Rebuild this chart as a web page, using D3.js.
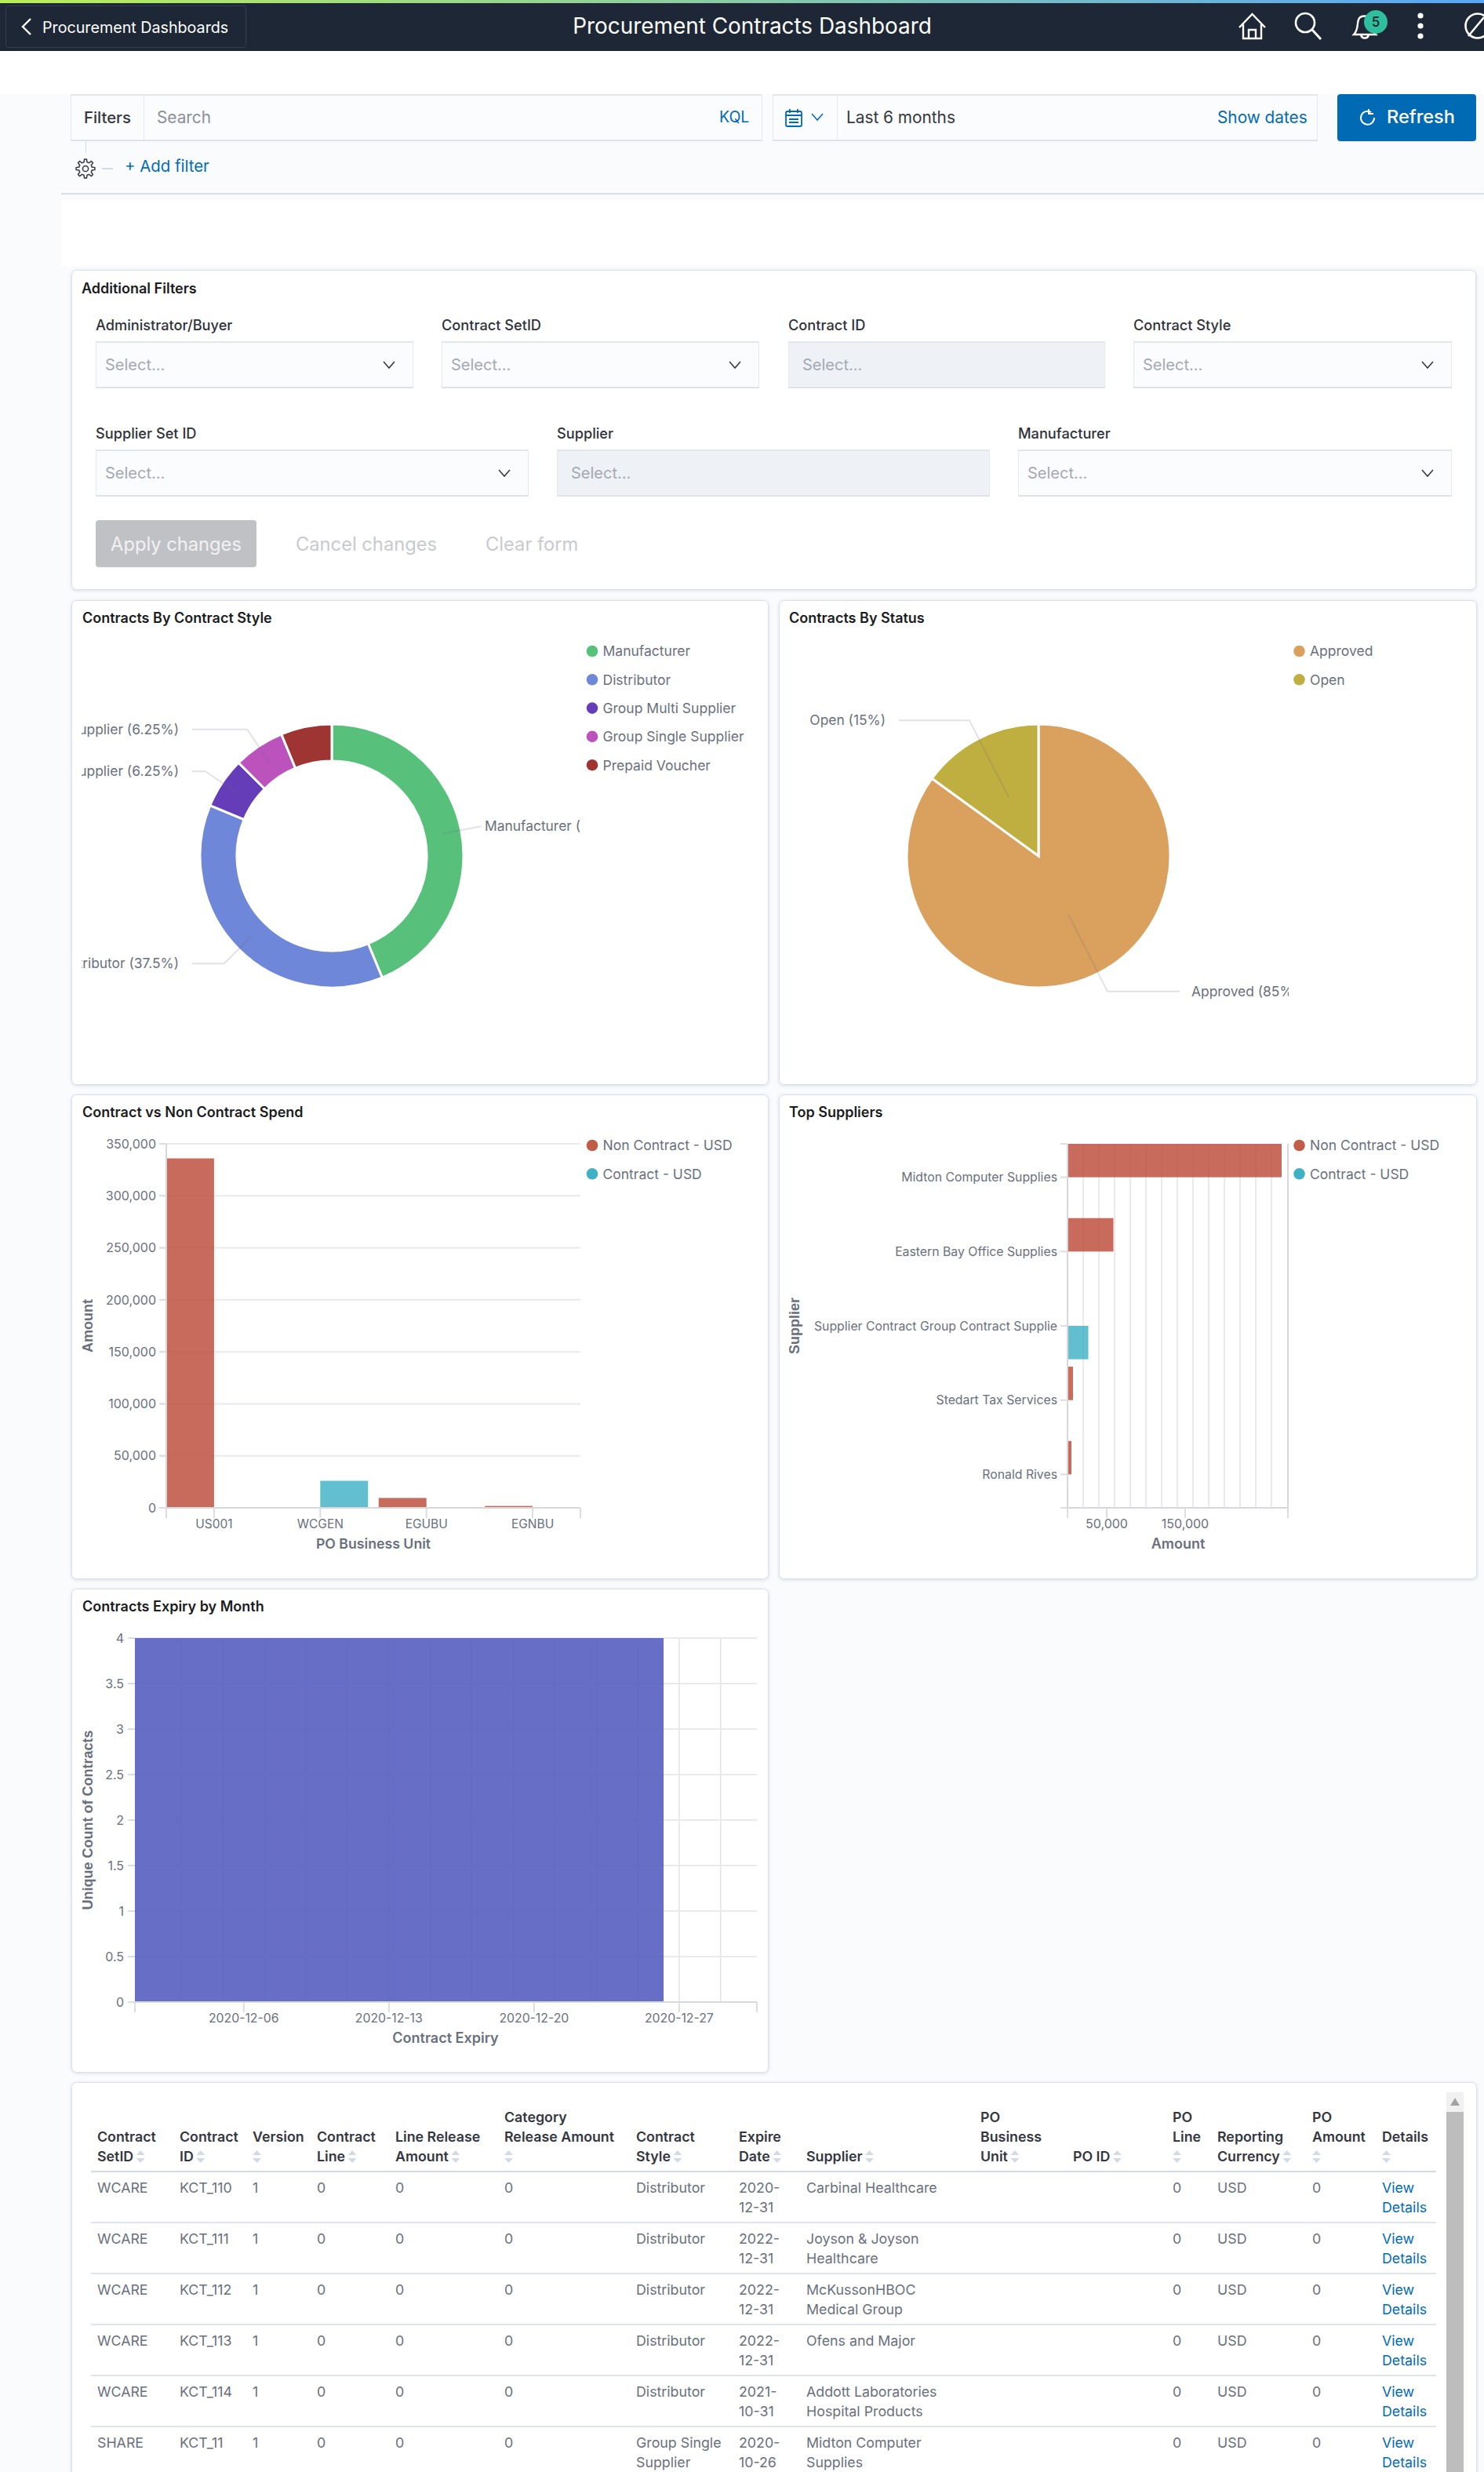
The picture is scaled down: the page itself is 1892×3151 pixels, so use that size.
<!DOCTYPE html>
<html>
<head>
<meta charset="utf-8">
<title>Procurement Contracts Dashboard</title>
<script src="https://cdn.jsdelivr.net/npm/d3@7"></script>
<style>
  html, body { margin: 0; padding: 0; background: #fff; overflow: hidden; }
  svg { display: block; font-family: Inter, "Noto Sans", sans-serif; }
  .panel { fill: #fff; stroke: #d8dfec; filter: drop-shadow(0 1px 2px rgba(120,130,150,.25)); }
  .grid { stroke: #e9eaed; stroke-width: 2; }
  .axis { stroke: #d6d8dc; stroke-width: 2; fill: none; }
  .tick { stroke: #dcdde1; stroke-width: 2; }
  .leader { stroke: rgba(105,112,125,.2); stroke-width: 2; fill: none; }
</style>
</head>
<body>
<script>
"use strict";

const WIDTH = 1892, HEIGHT = 3151;
const GREY = "#69707d", DARK = "#343741", BLUE = "#006bb4";

// Contracts By Contract Style
const styleNames = ["Manufacturer", "Distributor", "Group Multi Supplier", "Group Single Supplier", "Prepaid Voucher"];
const styleShares = [43.75, 37.5, 6.25, 6.25, 6.25];
const styleLabelled = ["Manufacturer", "Distributor", "Group Multi Supplier", "Group Single Supplier"];
const styleColours = ["#57c17b", "#6f87d8", "#663db8", "#bc52bc", "#9e3533"];

// Contracts By Status
const statusNames = ["Approved", "Open"];
const statusShares = [85, 15];
const statusColours = ["#daa05d", "#bfaf40"];

// Contract vs Non Contract Spend
const businessUnits = ["US001", "WCGEN", "EGUBU", "EGNBU"];
const unitNonContract = [336000, 0, 9500, 1800];
const unitContract = [0, 26000, 0, 0];
const unitTicks = [0, 50000, 100000, 150000, 200000, 250000, 300000, 350000];

// Top Suppliers
const suppliers = ["Midton Computer Supplies", "Eastern Bay Office Supplies", "Supplier Contract Group Contract Supplie", "Stedart Tax Services", "Ronald Rives"];
const supplierNonContract = [273000, 58500, 0, 7000, 5000];
const supplierContract = [0, 0, 26500, 0, 0];
const supplierGrid = [20000, 40000, 60000, 80000, 100000, 120000, 140000, 160000, 180000, 200000, 220000, 240000, 260000];
const supplierTicks = [50000, 150000];

// Contracts Expiry by Month
const expiryBucketStart = "2020-11-30T18:00:00Z";
const expiryBucketEnd = "2020-12-26T06:00:00Z";
const expiryCount = 4;
const expiryLabels = ["2020-12-06", "2020-12-13", "2020-12-20", "2020-12-27"];
const expiryGrid = ["2020-12-03", "2020-12-05", "2020-12-07", "2020-12-09", "2020-12-11", "2020-12-13", "2020-12-15", "2020-12-17", "2020-12-19", "2020-12-21", "2020-12-23", "2020-12-25", "2020-12-27", "2020-12-29"];
const expiryTicks = [0, 0.5, 1, 1.5, 2, 2.5, 3, 3.5, 4];

// Contract table
const tableHeaders = [
  ["Contract", "SetID"], ["Contract", "ID"], ["Version", ""], ["Contract", "Line"],
  ["Line Release", "Amount"], ["Category", "Release Amount", ""], ["Contract", "Style"],
  ["Expire", "Date"], ["Supplier"], ["PO", "Business", "Unit"], ["PO ID"], ["PO", "Line", ""],
  ["Reporting", "Currency"], ["PO", "Amount", ""], ["Details", ""]
];
const tableRows = [
  ["WCARE", "KCT_110", "1", "0", "0", "0", "Distributor", "2020-\n12-31", "Carbinal Healthcare", "", "", "0", "USD", "0", "View\nDetails"],
  ["WCARE", "KCT_111", "1", "0", "0", "0", "Distributor", "2022-\n12-31", "Joyson & Joyson\nHealthcare", "", "", "0", "USD", "0", "View\nDetails"],
  ["WCARE", "KCT_112", "1", "0", "0", "0", "Distributor", "2022-\n12-31", "McKussonHBOC\nMedical Group", "", "", "0", "USD", "0", "View\nDetails"],
  ["WCARE", "KCT_113", "1", "0", "0", "0", "Distributor", "2022-\n12-31", "Ofens and Major", "", "", "0", "USD", "0", "View\nDetails"],
  ["WCARE", "KCT_114", "1", "0", "0", "0", "Distributor", "2021-\n10-31", "Addott Laboratories\nHospital Products", "", "", "0", "USD", "0", "View\nDetails"],
  ["SHARE", "KCT_11", "1", "0", "0", "0", "Group Single\nSupplier", "2020-\n10-26", "Midton Computer\nSupplies", "", "", "0", "USD", "0", "View\nDetails"]
];
const columnX = [124, 229, 322, 404, 504, 643, 811, 942, 1028, 1250, 1368, 1495, 1552, 1673, 1762];

const legendSpend = ["Non Contract - USD", "Contract - USD"];
const spendColours = ["#c15c47", "#3fb1c5"];
const barColours = ["#bd4b38", "#3fb1c5"];
const BAR_OPACITY = 0.82;

const svg = d3.select("body").append("svg").attr("width", WIDTH).attr("height", HEIGHT);
const defs = svg.append("defs");

function txt(parent, x, y, str, o = {}) {
  return parent.append("text")
    .attr("x", x).attr("y", y).attr("dy", "0.36em")
    .attr("font-size", o.size || 16)
    .attr("font-weight", o.weight || 400)
    .attr("fill", o.fill || GREY)
    .attr("text-anchor", o.anchor || "start")
    .text(str);
}

function rect(parent, x, y, w, h, fill, r = 0) {
  return parent.append("rect").attr("x", x).attr("y", y).attr("width", w).attr("height", h)
    .attr("fill", fill).attr("rx", r);
}

function path(parent, d, stroke, width = 2, fill = "none") {
  return parent.append("path").attr("d", d).attr("stroke", stroke).attr("stroke-width", width).attr("fill", fill);
}

function chevron(parent, cx, cy, colour = DARK) {
  path(parent, `M${cx - 7},${cy - 4} L${cx},${cy + 4} L${cx + 7},${cy - 4}`, colour, 1.5);
}

function panel(x, y, w, h) {
  return svg.append("rect").attr("class", "panel").attr("x", x + .5).attr("y", y + .5)
    .attr("width", w).attr("height", h).attr("rx", 6);
}

function clipRect(id, x, y, w, h) {
  defs.append("clipPath").attr("id", id).append("rect")
    .attr("x", x).attr("y", y).attr("width", w).attr("height", h);
  return `url(#${id})`;
}

function legend(x, names, colours, top) {
  names.forEach((name, i) => {
    const y = top + i * 36.3;
    svg.append("circle").attr("cx", x).attr("cy", y).attr("r", 7.3).attr("fill", colours[i]);
    txt(svg, x + 13.5, y, name, {size: 17.5});
  });
}

function drawGear(cx, cy) {
  const teeth = 8, points = [];
  for (let i = 0; i < teeth; i++) {
    const a = i / teeth * 2 * Math.PI;
    [[-0.24, 8.5], [-0.12, 12], [0.12, 12], [0.24, 8.5]].forEach(([da, r]) => {
      points.push([cx + r * Math.sin(a + da), cy - r * Math.cos(a + da)]);
    });
  }
  path(svg, d3.line().curve(d3.curveLinearClosed)(points), DARK, 1.5);
  svg.append("circle").attr("cx", cx).attr("cy", cy).attr("r", 3.6).attr("fill", "none").attr("stroke", DARK).attr("stroke-width", 1.5);
}

function drawHeader() {
  const gradient = defs.append("linearGradient").attr("id", "strip");
  gradient.append("stop").attr("offset", "0").attr("stop-color", "#b9ee57");
  gradient.append("stop").attr("offset", "1").attr("stop-color", "#58a6f7");
  rect(svg, 0, 0, WIDTH, 4, "url(#strip)");
  rect(svg, 0, 4, WIDTH, 61, "#1d2735");
  svg.append("rect").attr("x", 7.5).attr("y", 7.5).attr("width", 306).attr("height", 53).attr("rx", 3)
    .attr("fill", "none").attr("stroke", "#343d4b");
  path(svg, "M39,24 L29,34 L39,44", "#fff", 2.4);
  txt(svg, 54, 34.5, "Procurement Dashboards", {size: 19.7, fill: "#fff"});
  txt(svg, 959, 33, "Procurement Contracts Dashboard", {size: 27.9, fill: "#fff", anchor: "middle"});

  path(svg, "M1580,35 L1596.5,18 L1613,35 M1585,31 V49 H1608 V31 M1592,49 V38 H1601 V49", "#fff", 2.4);
  svg.append("circle").attr("cx", 1664).attr("cy", 29).attr("r", 12).attr("fill", "none").attr("stroke", "#fff").attr("stroke-width", 2.6);
  path(svg, "M1673,38 L1684,50", "#fff", 3);
  path(svg, "M1726,44 C1732,38 1730,30 1732,25 C1734,19 1746,19 1748,25 C1750,30 1748,38 1754,44 Z M1735,44 C1736,50 1744,50 1745,44", "#fff", 2.4);
  svg.append("circle").attr("cx", 1754).attr("cy", 28).attr("r", 15).attr("fill", "#2fbf9f");
  txt(svg, 1754, 28, "5", {size: 17, fill: "#10202a", anchor: "middle", weight: 500});
  [20, 33, 46].forEach(y => svg.append("circle").attr("cx", 1811).attr("cy", y).attr("r", 3.6).attr("fill", "#fff"));
  svg.append("circle").attr("cx", 1884).attr("cy", 33).attr("r", 15.5).attr("fill", "none").attr("stroke", "#fff").attr("stroke-width", 2.6);
  path(svg, "M1872,46 L1892,22", "#fff", 2.6);
}

function inputBox(x, y, w, h, fill = "#fbfcfd") {
  rect(svg, x, y, w, h, fill);
  svg.append("rect").attr("x", x + .5).attr("y", y + .5).attr("width", w - 1).attr("height", h - 1)
    .attr("fill", "none").attr("stroke", "#e4e8ef");
  rect(svg, x, y, w, 2, "#e3e6ec");
  rect(svg, x, y + h - 2, w, 2, "#dfe2e8");
}

function drawFilterBar() {
  rect(svg, 0, 120, WIDTH, HEIGHT - 120, "#fafbfd");
  inputBox(90, 120, 882, 60);
  inputBox(985, 120, 695, 60);
  rect(svg, 183, 122, 1, 56, "#e6e9ef");
  rect(svg, 1067, 122, 1, 56, "#e6e9ef");
  txt(svg, 107, 150, "Filters", {size: 20.3, fill: DARK, weight: 500});
  txt(svg, 200, 150, "Search", {size: 20.8, fill: "#8a8f99"});
  txt(svg, 917, 149, "KQL", {size: 19.5, fill: BLUE});
  txt(svg, 1079, 150, "Last 6 months", {size: 20.8, fill: DARK});
  txt(svg, 1552, 150, "Show dates", {size: 20.8, fill: BLUE});
  svg.append("rect").attr("x", 1002).attr("y", 142).attr("width", 20).attr("height", 19).attr("rx", 2)
    .attr("fill", "none").attr("stroke", BLUE).attr("stroke-width", 1.8);
  path(svg, "M1002,147 H1022 M1007,139 V144 M1017,139 V144 M1006,152 H1018 M1006,156 H1018", BLUE, 1.8);
  chevron(svg, 1042, 149, BLUE);

  rect(svg, 1705, 120, 177, 60, BLUE, 4);
  txt(svg, 1768, 149, "Refresh", {size: 23.5, fill: "#fff", weight: 500});
  path(svg, "M1748,143 A8.5,8.5 0 1 0 1752,150", "#fff", 2);
  path(svg, "M1745,139 V145 H1751", "#fff", 2);

  rect(svg, 109, 180, 1, 15, "#d3dae6");
  drawGear(109, 215);
  rect(svg, 130, 214, 14, 2, "#d3dae6");
  txt(svg, 159, 212, "+ Add filter", {size: 20.4, fill: BLUE});
  rect(svg, 78, 246, WIDTH - 78, 2, "#d9deea");
  rect(svg, 78, 255, WIDTH - 78, 84, "#fff");
}

function drawAdditionalFilters() {
  panel(91, 344, 1790, 407);
  txt(svg, 104, 368, "Additional Filters", {size: 18, weight: 600, fill: "#1a1c21"});

  const firstRow = [["Administrator/Buyer", 122, 405, true], ["Contract SetID", 563, 405, true], ["Contract ID", 1005, 404, false], ["Contract Style", 1445, 406, true]];
  const secondRow = [["Supplier Set ID", 122, 552, true], ["Supplier", 710, 552, false], ["Manufacturer", 1298, 553, true]];
  const box = (f, labelY, boxY) => {
    txt(svg, f[1], labelY, f[0], {size: 18.2, weight: 500, fill: "#2f323a"});
    inputBox(f[1], boxY, f[2], 60, f[3] ? "#fbfcfd" : "#eef1f6");
    txt(svg, f[1] + (f[3] ? 12 : 18), boxY + 30, "Select...", {size: 20, fill: "#a5a9b3"});
    if (f[3]) chevron(svg, f[1] + f[2] - 31, boxY + 30);
  };
  firstRow.forEach(f => box(f, 414, 435));
  secondRow.forEach(f => box(f, 552, 573));

  rect(svg, 122, 663, 205, 60, "#c0c1c5", 4);
  txt(svg, 224.5, 693, "Apply changes", {size: 23.7, fill: "#f1f1f2", anchor: "middle"});
  txt(svg, 377, 693, "Cancel changes", {size: 23.7, fill: "#c9cace"});
  txt(svg, 619, 693, "Clear form", {size: 23.7, fill: "#c9cace"});
}

// pie or donut with leader lines that start at the slice centroid
function drawPie(name, cx, cy, names, shares, colours, innerR, labelled, clipId) {
  const outerR = 168, elbowR = 194;
  const slices = d3.pie().sort(null).value(d => d)(shares);
  const arc = d3.arc().innerRadius(innerR).outerRadius(outerR);
  const elbow = d3.arc().innerRadius(elbowR).outerRadius(elbowR);
  const g = svg.append("g").attr("transform", `translate(${cx},${cy})`);

  g.selectAll("path.slice").data(slices).join("path").attr("class", "slice")
    .attr("d", arc).attr("fill", (d, i) => colours[i]).attr("stroke", "#fff").attr("stroke-width", 3);

  const labels = svg.append("g").attr("clip-path", clipId);
  slices.forEach((d, i) => {
    if (!labelled.includes(names[i])) return;
    const [sx, sy] = arc.centroid(d);
    const [ex, ey] = elbow.centroid(d);
    const left = ex < 0;
    const endX = left ? Math.min(ex, -178) : Math.max(ex, 180);
    g.append("path").attr("class", "leader")
      .attr("d", d3.line()([[sx, sy], [ex, ey], [endX, ey]]));
    txt(labels, cx + (left ? -195 : 195), cy + ey, `${names[i]} (${shares[i]}%)`,
        {size: 17.4, anchor: left ? "end" : "start"});
  });
}

function panelTitle(x, y, str) {
  txt(svg, x, y, str, {size: 18, weight: 600, fill: "#1a1c21"});
}

function yAxisTitle(x, y, str) {
  txt(svg, 0, 0, str, {size: 18, weight: 700, anchor: "middle"})
    .attr("font-family", "Liberation Sans, Arial, sans-serif")
    .attr("transform", `translate(${x},${y}) rotate(-90)`);
}

function drawSpend() {
  const x0 = 212, x1 = 740, yB = 1922, yT = 1458;
  const x = d3.scaleBand().domain(businessUnits).range([x0, x1]).paddingInner(0.1);
  const series = d3.scaleBand().domain([0, 1]).range([0, x.bandwidth()]);
  const y = d3.scaleLinear().domain([0, 350000]).range([yB, yT]);

  svg.append("g").selectAll("line").data(unitTicks.slice(1)).join("line").attr("class", "grid")
    .attr("x1", x0 - 9).attr("x2", x1).attr("y1", y).attr("y2", y);

  [unitNonContract, unitContract].forEach((values, s) => {
    svg.append("g").selectAll("rect").data(values).join("rect")
      .attr("x", (d, i) => x(businessUnits[i]) + series(s))
      .attr("width", series.bandwidth())
      .attr("y", d => y(d)).attr("height", d => yB - y(d))
      .attr("fill", barColours[s]).attr("fill-opacity", BAR_OPACITY);
  });

  svg.append("path").attr("class", "axis").attr("d", `M${x0},${yT} V${yB} H${x1}`);
  const centres = businessUnits.map(d => x(d) + x.bandwidth() / 2);
  [x0, ...centres, x1].forEach(px => svg.append("line").attr("class", "tick")
    .attr("x1", px).attr("x2", px).attr("y1", yB).attr("y2", yB + 13));
  unitTicks.forEach(d => {
    svg.append("line").attr("class", "tick").attr("x1", x0 - 9).attr("x2", x0).attr("y1", y(d)).attr("y2", y(d));
    txt(svg, 199, y(d), d3.format(",")(d), {size: 16, anchor: "end"});
  });
  businessUnits.forEach((d, i) => txt(svg, centres[i], 1942, d, {size: 15.5, anchor: "middle"}));
  txt(svg, 476, 1968, "PO Business Unit", {size: 17.7, weight: 600, anchor: "middle"});
  yAxisTitle(112, 1690, "Amount");
}

function drawSuppliers() {
  const x0 = 1361, x1 = 1642, yT = 1458, yB = 1922;
  const x = d3.scaleLinear().domain([0, 281000]).range([x0, x1]);
  const y = d3.scaleBand().domain(suppliers).range([yT, yB]).paddingInner(0.1);
  const series = d3.scaleBand().domain([0, 1]).range([0, y.bandwidth()]);

  svg.append("g").selectAll("line").data(supplierGrid).join("line").attr("class", "grid")
    .attr("x1", x).attr("x2", x).attr("y1", yT).attr("y2", yB);

  [supplierNonContract, supplierContract].forEach((values, s) => {
    svg.append("g").selectAll("rect").data(values).join("rect")
      .attr("x", x0).attr("width", d => x(d) - x0)
      .attr("y", (d, i) => y(suppliers[i]) + series(s))
      .attr("height", series.bandwidth())
      .attr("fill", barColours[s]).attr("fill-opacity", BAR_OPACITY);
  });

  svg.append("path").attr("class", "axis").attr("d", `M${x0},${yT} V${yB} H${x1} V${yT}`);
  const centres = suppliers.map(d => y(d) + y.bandwidth() / 2);
  [yT, ...centres, yB].forEach(py => svg.append("line").attr("class", "tick")
    .attr("x1", x0 - 9).attr("x2", x0).attr("y1", py).attr("y2", py));
  suppliers.forEach((d, i) => txt(svg, 1348, centres[i], d, {size: 15.8, anchor: "end"}));
  [0, ...supplierTicks, 281000].forEach(d => svg.append("line").attr("class", "tick")
    .attr("x1", x(d)).attr("x2", x(d)).attr("y1", yB).attr("y2", yB + 13));
  supplierTicks.forEach(d => txt(svg, x(d), 1942, d3.format(",")(d), {size: 16, anchor: "middle"}));
  txt(svg, 1502, 1968, "Amount", {size: 18, weight: 600, anchor: "middle"});
  yAxisTitle(1013, 1690, "Supplier");
}

function drawExpiry() {
  const x0 = 172, x1 = 965, yB = 2552, yT = 2088;
  const x = d3.scaleUtc().domain([new Date("2020-11-30T18:00:00Z"), new Date("2020-12-30T18:00:00Z")]).range([x0, x1]);
  const y = d3.scaleLinear().domain([0, 4]).range([yB, yT]);

  svg.append("g").selectAll("line").data(expiryGrid).join("line").attr("stroke", "#e2e3e7").attr("stroke-width", 1.5)
    .attr("x1", d => x(new Date(d))).attr("x2", d => x(new Date(d))).attr("y1", yT).attr("y2", yB);
  svg.append("g").selectAll("line").data(expiryTicks.slice(1)).join("line").attr("class", "grid")
    .attr("x1", x0 - 9).attr("x2", x1).attr("y1", y).attr("y2", y);

  svg.append("rect").attr("x", x(new Date(expiryBucketStart))).attr("y", y(expiryCount))
    .attr("width", x(new Date(expiryBucketEnd)) - x(new Date(expiryBucketStart)))
    .attr("height", yB - y(expiryCount))
    .attr("fill", "#4f5abc").attr("fill-opacity", 0.87);

  svg.append("path").attr("class", "axis").attr("d", `M${x0},${yB} H${x1}`);
  expiryTicks.forEach(d => {
    svg.append("line").attr("class", "tick").attr("x1", x0 - 9).attr("x2", x0).attr("y1", y(d)).attr("y2", y(d));
    txt(svg, 158, y(d), d, {size: 16, anchor: "end"});
  });
  [x0, x1].concat(expiryLabels.map(d => x(new Date(d)))).forEach(px => svg.append("line").attr("class", "tick")
    .attr("x1", px).attr("x2", px).attr("y1", yB).attr("y2", yB + 13));
  expiryLabels.forEach(d => txt(svg, x(new Date(d)), 2572, d, {size: 15.8, anchor: "middle"}));
  txt(svg, 568, 2598, "Contract Expiry", {size: 18, weight: 600, anchor: "middle"});
  yAxisTitle(112, 2320, "Unique Count of Contracts");
}

function sortArrows(parent, x, y) {
  path(parent, `M${x - 5.5},${y - 2} L${x},${y - 8} L${x + 5.5},${y - 2} Z`, "none", 0, "#d3dae6");
  path(parent, `M${x - 5.5},${y + 2} L${x},${y + 8} L${x + 5.5},${y + 2} Z`, "none", 0, "#d3dae6");
}

function drawTable() {
  const headerBottom = 2749, lineH = 25, rowTop = 2768, rowH = 65;
  const g = svg.append("g");
  tableHeaders.forEach((lines, c) => {
    const n = lines.length;
    lines.forEach((line, i) => {
      const y = headerBottom - (n - 1 - i) * lineH;
      const last = i === n - 1;
      if (line) {
        const t = txt(g, columnX[c], y, line, {size: 17.8, weight: 600, fill: DARK});
        if (last) sortArrows(g, columnX[c] + t.node().getComputedTextLength() + 9, y);
      } else {
        sortArrows(g, columnX[c] + 5.5, y);
      }
    });
  });
  rect(g, 116, rowTop - 1, 1715, 2, "#d3dae6");
  tableRows.forEach((row, r) => {
    const top = rowTop + r * rowH;
    row.forEach((cell, c) => {
      cell.split("\n").forEach((line, i) => {
        txt(g, columnX[c], top + 21 + i * lineH, line, {size: 17.8, fill: c === 14 ? BLUE : GREY});
      });
    });
    if (r < tableRows.length - 1) rect(g, 116, top + rowH - 1, 1715, 2, "#dfe4ee");
  });
  rect(svg, 1844, 2667, 22, 25, "#f1f1f1");
  path(svg, "M1849,2684 L1855,2674 L1861,2684 Z", "none", 0, "#a3a3a3");
  rect(svg, 1844, 2692, 22, HEIGHT - 2692, "#bdbdbd");
}

drawFilterBar();
drawHeader();
drawAdditionalFilters();

panel(91, 765, 888, 617);
panel(993, 765, 889, 617);
panel(91, 1395, 888, 617);
panel(993, 1395, 889, 617);
panel(91, 2025, 888, 616);
panel(91, 2654, 1791, 520);

panelTitle(105, 788, "Contracts By Contract Style");
drawPie("style", 423, 1091, styleNames, styleShares, styleColours, 121, styleLabelled, clipRect("clipStyle", 104, 800, 636, 560));
legend(755, styleNames, styleColours, 830);

panelTitle(1006, 788, "Contracts By Status");
drawPie("status", 1324, 1091, statusNames, statusShares, statusColours, 0, statusNames, clipRect("clipStatus", 1010, 800, 633, 560));
legend(1656.5, statusNames, statusColours, 830);

panelTitle(105, 1418, "Contract vs Non Contract Spend");
drawSpend();
legend(755, legendSpend, spendColours, 1460);

panelTitle(1006, 1418, "Top Suppliers");
drawSuppliers();
legend(1656.5, legendSpend, spendColours, 1460);

panelTitle(105, 2048, "Contracts Expiry by Month");
drawExpiry();

drawTable();
</script>
</body>
</html>
